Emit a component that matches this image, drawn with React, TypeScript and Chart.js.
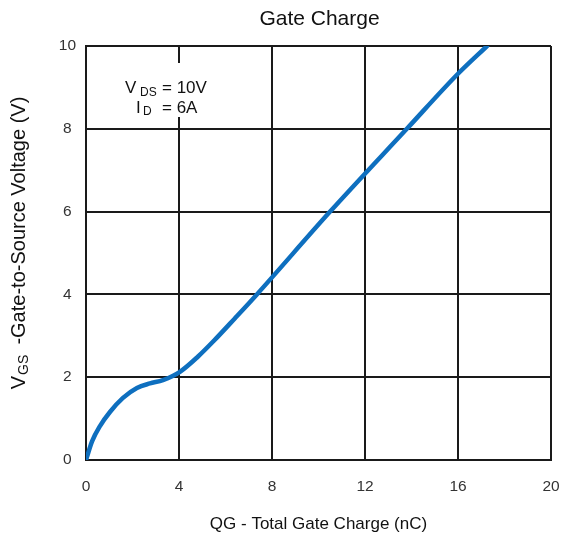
import React, { useEffect, useRef } from "react";
import { Chart, registerables } from "chart.js";

Chart.register(...registerables);

const qg = [0, 0.26, 0.6, 1.03, 1.59, 2.19, 2.75, 3.31, 4.04, 4.82, 5.5, 6.4, 7.35, 10.5, 13.8, 16, 17.25];
const vgs = [0, 0.45, 0.82, 1.16, 1.5, 1.74, 1.85, 1.93, 2.13, 2.5, 2.88, 3.42, 4, 6, 8, 9.33, 10.0];
const xTicks = [0, 4, 8, 12, 16, 20];
const yTicks = [0, 2, 4, 6, 8, 10];

const FONT = "'Liberation Sans', Arial, sans-serif";

const textPlugin = {
  id: "texts",
  afterDraw(chart: any) {
    const ctx = chart.ctx;
    const ca = chart.chartArea;
    ctx.save();
    ctx.fillStyle = "#111";
    ctx.font = `21px ${FONT}`;
    ctx.textAlign = "center";
    ctx.textBaseline = "alphabetic";
    ctx.fillText("Gate Charge", (ca.left + ca.right) / 2 + 1, 25);
    ctx.font = `17px ${FONT}`;
    ctx.fillText("QG - Total Gate Charge (nC)", (ca.left + ca.right) / 2, 529);
    ctx.save();
    ctx.translate(25, 243);
    ctx.rotate(-Math.PI / 2);
    ctx.textAlign = "left";
    const big = `20px ${FONT}`;
    const small = `14px ${FONT}`;
    ctx.font = big;
    const wV = ctx.measureText("V").width;
    const rest = "  -Gate-to-Source Voltage (V)";
    const wR = ctx.measureText(rest).width;
    ctx.font = small;
    const wS = ctx.measureText("GS").width;
    const total = wV + wS + wR;
    const x0 = -total / 2;
    ctx.font = big;
    ctx.fillText("V", x0, 0);
    ctx.font = small;
    ctx.fillText("GS", x0 + wV + 1, 3);
    ctx.font = big;
    ctx.fillText(rest, x0 + wV + wS, 0);
    ctx.restore();
    ctx.fillStyle = "#fff";
    ctx.fillRect(118, 63, 94, 54);
    ctx.fillStyle = "#111";
    ctx.textAlign = "left";
    ctx.font = `17px ${FONT}`;
    ctx.fillText("V", 125, 93);
    ctx.font = `12px ${FONT}`;
    ctx.fillText("DS", 140, 96);
    ctx.font = `17px ${FONT}`;
    ctx.fillText("= 10V", 162, 93);
    ctx.fillText("I", 136, 113);
    ctx.font = `12px ${FONT}`;
    ctx.fillText("D", 143, 115);
    ctx.font = `17px ${FONT}`;
    ctx.fillText("= 6A", 162, 113);
    ctx.restore();
  },
};

export default function App() {
  const ref = useRef<HTMLCanvasElement>(null);
  useEffect(() => {
    document.body.style.margin = "0";
    const c = ref.current!;
    const chart = new Chart(c, {
      type: "scatter",
      data: {
        datasets: [
          {
            data: qg.map((x, i) => ({ x, y: vgs[i] })),
            showLine: true,
            borderColor: "#0e6fbf",
            backgroundColor: "#0e6fbf",
            borderWidth: 4.5,
            pointRadius: 0,
            cubicInterpolationMode: "monotone",
            borderCapStyle: "round",
          } as any,
        ],
      },
      options: {
        responsive: false,
        animation: false,
        devicePixelRatio: 1,
        layout: { padding: { top: 46, right: 12, left: 0, bottom: 0 } },
        plugins: { legend: { display: false }, tooltip: { enabled: false }, title: { display: false } },
        scales: {
          x: {
            type: "linear",
            min: 0,
            max: 20,
            afterFit: (s: any) => {
              s.height = 78;
              s.paddingLeft = 0;
              s.paddingRight = 0;
            },
            afterBuildTicks: (s: any) => {
              s.ticks = xTicks.map((v) => ({ value: v }));
            },
            grid: { color: "#1a1a1a", lineWidth: 2, drawTicks: false },
            border: { color: "#1a1a1a", width: 2 },
            ticks: { color: "#333", font: { family: FONT, size: 15.5 }, padding: 17, maxRotation: 0 },
          },
          y: {
            type: "linear",
            min: 0,
            max: 10,
            afterFit: (s: any) => {
              s.width = 86;
              s.paddingTop = 0;
              s.paddingBottom = 0;
            },
            afterBuildTicks: (s: any) => {
              s.ticks = yTicks.map((v) => ({ value: v }));
            },
            grid: { color: "#1a1a1a", lineWidth: 2, drawTicks: false },
            border: { color: "#1a1a1a", width: 2 },
            ticks: { color: "#333", font: { family: FONT, size: 15.5 }, padding: 10, crossAlign: "center" },
          },
        },
      },
      plugins: [textPlugin],
    });
    return () => chart.destroy();
  }, []);
  return (
    <div style={{ width: 563, height: 538 }}>
      <canvas ref={ref} width={563} height={538} style={{ display: "block" }} />
    </div>
  );
}
